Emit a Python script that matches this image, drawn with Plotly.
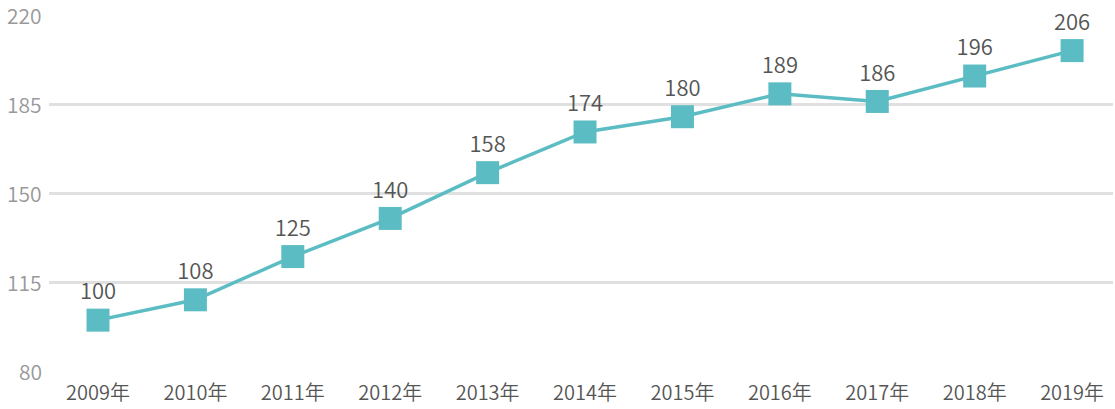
import plotly.graph_objects as go

years = ["2009年", "2010年", "2011年", "2012年", "2013年", "2014年", "2015年", "2016年", "2017年", "2018年", "2019年"]
values = [100, 108, 125, 140, 158, 174, 180, 189, 186, 196, 206]
y_ticks = [80, 115, 150, 185, 220]

FONT = "Noto Sans CJK SC"
fig = go.Figure()
fig.add_trace(go.Scatter(
    x=years, y=values, mode="lines+markers+text",
    line=dict(color="#5bbdc3", width=3.5),
    marker=dict(symbol="square", size=23, color="#5bbdc3"),
    text=[str(v) for v in values], textposition="top center",
    textfont=dict(family=FONT, size=22, color="#555555", weight=350),
    cliponaxis=False, showlegend=False,
))
for t in y_ticks:
    fig.add_annotation(x=0, xref="paper", y=t, yref="y", text=str(t), showarrow=False,
                       xanchor="right", xshift=-5, yanchor="middle",
                       font=dict(family=FONT, size=21, color="#999999", weight=350))
fig.update_layout(
    width=1115, height=409,
    margin=dict(l=49, r=2, t=15, b=38),
    paper_bgcolor="white", plot_bgcolor="white",
    font=dict(family=FONT),
    xaxis=dict(type="category", range=[-0.503, 10.42], showgrid=False, showline=False,
               zeroline=False, ticks="", ticklabelstandoff=8,
               tickfont=dict(size=20, color="#555555", family=FONT, weight=350)),
    yaxis=dict(range=[80, 220], tickvals=y_ticks, showgrid=True, gridcolor="#e0e0e0",
               gridwidth=3, zeroline=False, showline=False, ticks="", showticklabels=False),
)
fig.write_html("out.html")
